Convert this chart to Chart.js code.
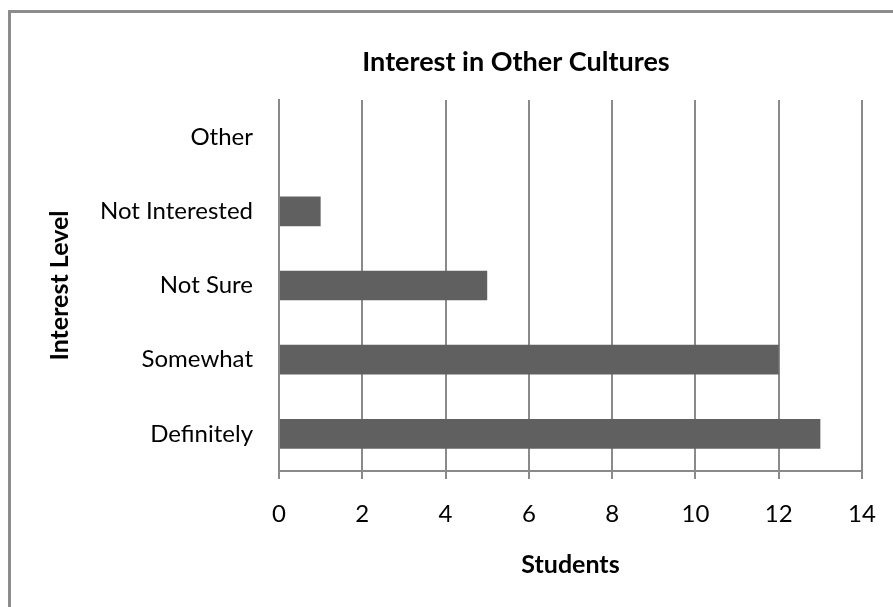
<!DOCTYPE html>
<html>

<head>
  <meta charset="UTF-8">
  <script src="https://cdn.jsdelivr.net/npm/chart.js"></script>
  <title>Interest in Other Cultures</title>
  <style>
    body { margin: 0; background: #fff; }
    .moldura {
      position: absolute; left: 8px; top: 10px; width: 950px; height: 700px;
      border-left: 3px solid #8c8c8c; border-top: 3px solid #8c8c8c;
    }
    .grafico { position: absolute; left: 0; top: 0; width: 893px; height: 607px; }
  </style>
</head>

<body>
  <div class="moldura"></div>
  <div class="grafico">
    <canvas id="myChart" width="893" height="607"></canvas>
  </div>
</body>

</html>

<script>
  // dados
  var categorias = ["Other", "Not Interested", "Not Sure", "Somewhat", "Definitely"];
  var alunos = [0, 1, 5, 12, 13];
  var ticksX = [0, 2, 4, 6, 8, 10, 12, 14];
  var titulo = 'Interest in Other Cultures';

  var fonte = "Lato, 'Open Sans', sans-serif";
  var cinza = '#8a8a8a';

  // titulo do grafico: no Excel ele fica centrado na area inteira, nao no grafico
  const tituloPlugin = {
    id: 'tituloPlugin',
    afterDraw: function (chart) {
      var ctx = chart.ctx;
      ctx.save();
      ctx.fillStyle = '#000';
      ctx.font = "bold 27px " + fonte;
      ctx.textAlign = 'center';
      ctx.textBaseline = 'middle';
      ctx.fillText(titulo, 516, 62);
      ctx.restore();
    }
  };

  const data = {
    labels: categorias,
    datasets: [{
      data: alunos,
      backgroundColor: '#606060',
      barPercentage: 0.4,
      categoryPercentage: 1
    }]
  };

  const config = {
    type: 'bar',
    data: data,
    plugins: [tituloPlugin],
    options: {
      indexAxis: 'y',
      responsive: false,
      animation: false,
      layout: { padding: { left: 0, right: 31, top: 100, bottom: 0 } },
      plugins: {
        legend: { display: false },
        tooltip: { enabled: false },
        title: { display: false }
      },
      scales: {
        x: {
          min: ticksX[0],
          max: ticksX[ticksX.length - 1],
          afterBuildTicks: function (scale) {
            scale.ticks = ticksX.map(function (v) { return { value: v }; });
          },
          afterFit: function (scale) {
            scale.height = 136;
            scale.paddingLeft = 0;
            scale.paddingRight = 0;
          },
          grid: { color: cinza, lineWidth: 2, tickLength: 8 },
          border: { color: cinza, width: 2 },
          ticks: { color: '#000', font: { family: fonte, size: 24 }, padding: 21 },
          title: {
            display: true,
            text: 'Students',
            color: '#000',
            font: { family: fonte, size: 25, weight: 'bold' },
            padding: { top: 0, bottom: 27 }
          }
        },
        y: {
          afterFit: function (scale) { scale.width = 279; },
          grid: { display: false, drawTicks: false },
          border: { display: true, color: cinza, width: 2 },
          ticks: { color: '#000', font: { family: fonte, size: 24 }, padding: 26 },
          title: {
            display: true,
            text: 'Interest Level',
            color: '#000',
            font: { family: fonte, size: 25, weight: 'bold' },
            padding: { top: 45, bottom: 0 }
          }
        }
      }
    }
  };

  const myChart = new Chart(
    document.getElementById('myChart'),
    config
  );
</script>
